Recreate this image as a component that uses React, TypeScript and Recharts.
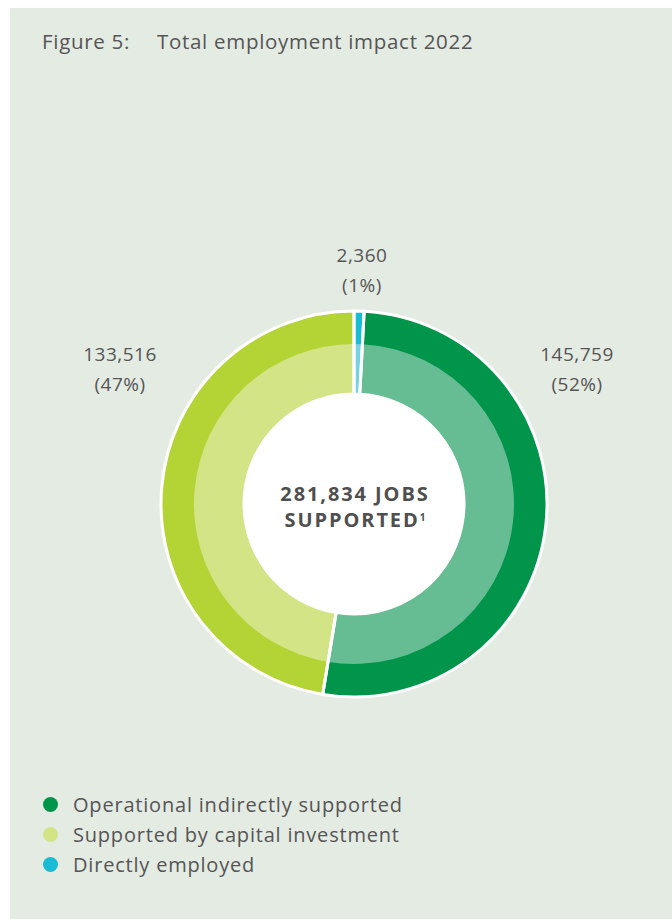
import React from "react";
import { PieChart, Pie, Cell } from "recharts";

const categories = ["Directly employed", "Operational indirectly supported", "Supported by capital investment"];
const values = [2360, 145759, 133516];
const valueLabels = ["2,360", "145,759", "133,516"];
const percentLabels = ["(1%)", "(52%)", "(47%)"];
const legendOrder = ["Operational indirectly supported", "Supported by capital investment", "Directly employed"];
const totalLabel = ["281,834 JOBS", "SUPPORTED"];

const darkColors: Record<string, string> = {
  "Directly employed": "#1abcd3",
  "Operational indirectly supported": "#00954a",
  "Supported by capital investment": "#b4d335",
};
const lightColors: Record<string, string> = {
  "Directly employed": "#74d2e1",
  "Operational indirectly supported": "#66bd93",
  "Supported by capital investment": "#d3e486",
};

const data = categories.map((name, i) => ({ name, value: values[i] }));

const FONT = "'Open Sans', Lato, sans-serif";
const TXT = "#555555";

const labelPos = [
  { x: 362, y: 255 },
  { x: 577, y: 354 },
  { x: 120, y: 354 },
];

export default function App() {
  return (
    <div style={{ position: "absolute", left: 0, top: 0, width: 672, height: 919, background: "#ffffff", overflow: "hidden", fontFamily: FONT }}>
      <div style={{ position: "absolute", left: 10, top: 8, width: 662, height: 911, background: "#e4ebe3" }} />
      <div style={{ position: "absolute", left: 42, top: 28, fontSize: 20.5, letterSpacing: 0.7, color: TXT, whiteSpace: "pre", lineHeight: "26px" }}>
        Figure 5:<span style={{ position: "absolute", left: 115 }}>Total employment impact 2022</span>
      </div>
      <div style={{ position: "absolute", left: 0, top: 0 }}>
        <PieChart width={672} height={919} margin={{ top: 0, right: 0, bottom: 0, left: 0 }}>
          <Pie
            data={data}
            dataKey="value"
            nameKey="name"
            cx={354}
            cy={504}
            innerRadius={110}
            outerRadius={193}
            startAngle={90}
            endAngle={-270}
            stroke="none"
            isAnimationActive={false}
          >
            {data.map((d) => (
              <Cell key={d.name} fill={darkColors[d.name]} />
            ))}
          </Pie>
          <Pie
            data={data}
            dataKey="value"
            nameKey="name"
            cx={354}
            cy={504}
            innerRadius={110}
            outerRadius={160}
            startAngle={90}
            endAngle={-270}
            stroke="none"
            isAnimationActive={false}
          >
            {data.map((d) => (
              <Cell key={d.name} fill={lightColors[d.name]} />
            ))}
          </Pie>
          <Pie
            data={data}
            dataKey="value"
            nameKey="name"
            cx={354}
            cy={504}
            innerRadius={110}
            outerRadius={193}
            startAngle={90}
            endAngle={-270}
            fill="none"
            stroke="#ffffff"
            strokeWidth={3}
            isAnimationActive={false}
          >
            {data.map((d) => (
              <Cell key={d.name} fill="none" stroke="#ffffff" />
            ))}
          </Pie>
        </PieChart>
      </div>
      <div style={{ position: "absolute", left: 354 - 111, top: 504 - 111, width: 222, height: 222, borderRadius: 111, background: "#ffffff" }} />
      {labelPos.map((p, i) => (
        <div key={i} style={{ position: "absolute", left: p.x - 60, top: p.y - 15, width: 120, textAlign: "center", fontSize: 19, letterSpacing: 0.5, color: TXT, lineHeight: "30px" }}>
          <div>{valueLabels[i]}</div>
          <div>{percentLabels[i]}</div>
        </div>
      ))}
      <div style={{ position: "absolute", left: 225, top: 481, width: 260, textAlign: "center", fontSize: 20, fontWeight: 700, color: "#4f4f4f", lineHeight: "26px", letterSpacing: 1.9 }}>
        <div>{totalLabel[0]}</div>
        <div>{totalLabel[1]}<sup style={{ fontSize: 10, verticalAlign: "top", lineHeight: "20px", letterSpacing: 0 }}>1</sup></div>
      </div>
      {legendOrder.map((name, i) => (
        <div key={name} style={{ position: "absolute", left: 43, top: 790 + i * 30, height: 28, display: "flex", alignItems: "center" }}>
          <div style={{ width: 15, height: 15, borderRadius: 8, background: i === 1 ? lightColors[name] : darkColors[name] }} />
          <div style={{ marginLeft: 15, fontSize: 20, letterSpacing: 0.8, color: TXT }}>{name}</div>
        </div>
      ))}
    </div>
  );
}
